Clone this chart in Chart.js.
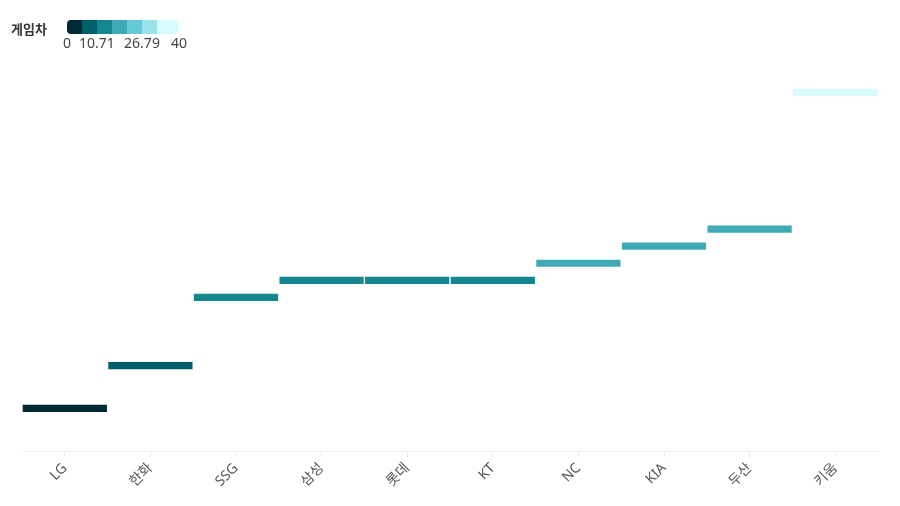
<!DOCTYPE html>
<html>
<head>
<meta charset="utf-8">
<script src="https://cdn.jsdelivr.net/npm/chart.js@4/dist/chart.umd.min.js"></script>
<style>
  html, body { margin: 0; padding: 0; background: #fff; }
  #wrap { position: relative; width: 900px; height: 506px; }
  #legend-title {
    position: absolute; left: 11px; top: 19px;
    font: bold 13px 'Noto Sans', 'Noto Sans CJK KR', sans-serif; color: #333;
  }
  #legend-bar {
    position: absolute; left: 67px; top: 20px; width: 112px; height: 14px;
    border-radius: 4px; overflow: hidden; display: flex;
  }
  .legend-tick {
    position: absolute; top: 33px; transform: translateX(-50%);
    font: 14px 'Noto Sans', 'Noto Sans CJK KR', sans-serif; color: #444;
  }
</style>
</head>
<body>
<div id="wrap">
  <div id="legend-title">게임차</div>
  <div id="legend-bar"></div>
  <canvas id="chart" width="900" height="506"></canvas>
</div>
<script>
/* ── Data ── */
var teams = ['LG', '한화', 'SSG', '삼성', '롯데', 'KT', 'NC', 'KIA', '두산', '키움'];
var gamesBehind = [0, 5, 13, 15, 15, 15, 17, 19, 21, 37];
var legendTicks = [0, 10.71, 26.79, 40];
var palette = ['#002a33', '#035e6b', '#13868f', '#3fa9b6', '#66c9d7', '#98e3ec', '#d8fbfd'];
var colorBreaks = [4, 10, 16, 22, 28, 34];

function colorFor(v) {
  var i = 0;
  while (i < colorBreaks.length && v >= colorBreaks[i]) i++;
  return palette[i];
}

/* ── Legend ── */
var legendMax = 40, legendDomainMax = 37.5, legendLeft = 67, legendWidth = 112;
var legendBar = document.getElementById('legend-bar');
var step = legendDomainMax / palette.length;
palette.forEach(function(c, i) {
  var from = i * step;
  var to = i === palette.length - 1 ? legendMax : (i + 1) * step;
  var seg = document.createElement('div');
  seg.style.background = c;
  seg.style.width = ((to - from) / legendMax * legendWidth) + 'px';
  seg.style.height = '100%';
  legendBar.appendChild(seg);
});
legendTicks.forEach(function(t) {
  var el = document.createElement('div');
  el.className = 'legend-tick';
  el.textContent = String(t);
  el.style.left = (legendLeft + t / legendMax * legendWidth) + 'px';
  document.getElementById('wrap').appendChild(el);
});

/* ── Chart ── */
new Chart(document.getElementById('chart'), {
  type: 'bar',
  data: {
    labels: teams,
    datasets: [{
      data: gamesBehind.map(function(v) { return [v - 0.5, v + 0.5]; }),
      backgroundColor: gamesBehind.map(colorFor),
      borderColor: 'rgba(255,255,255,0.4)',
      borderWidth: 1,
      borderSkipped: false,
      barPercentage: 1,
      categoryPercentage: 1
    }]
  },
  options: {
    responsive: false,
    animation: false,
    layout: { padding: { left: 22, right: 22, top: 67, bottom: 0 } },
    plugins: { legend: { display: false }, tooltip: { enabled: false } },
    scales: {
      x: {
        grid: { offset: false, drawOnChartArea: false, color: '#e8e8e8', tickLength: 6 },
        border: { color: '#eeeeee' },
        ticks: {
          color: '#555',
          maxRotation: 45, minRotation: 45,
          font: { family: "'Noto Sans', 'Noto Sans CJK KR', sans-serif", size: 14 }
        },
        afterFit: function(s) { s.height = 55; }
      },
      y: { display: false, min: -5, max: 40 }
    }
  }
});
</script>
</body>
</html>
